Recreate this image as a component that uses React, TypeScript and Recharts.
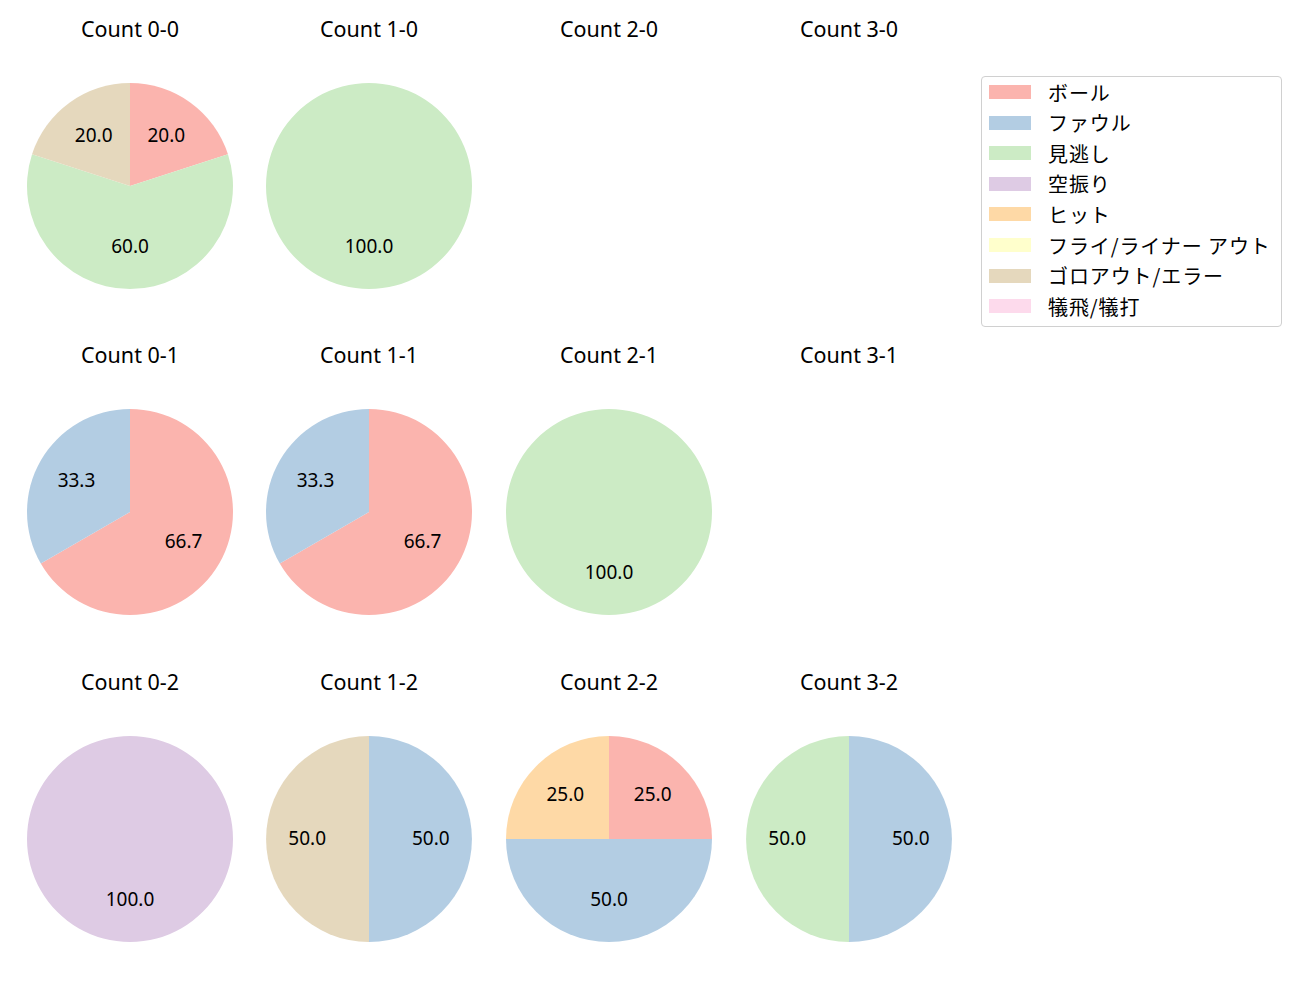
import React from 'react'
import { PieChart, Pie, Cell } from 'recharts'

// 打席結果カテゴリ
const categories = ['ボール', 'ファウル', '見逃し', '空振り', 'ヒット', 'フライ/ライナー アウト', 'ゴロアウト/エラー', '犠飛/犠打']
const colors = ['#fbb4ae', '#b3cde3', '#ccebc5', '#decbe4', '#fed9a6', '#ffffcc', '#e5d8bd', '#fddaec']

// カウントごとの件数 (categories の順)
const countLabels = ['0-0', '1-0', '2-0', '3-0', '0-1', '1-1', '2-1', '3-1', '0-2', '1-2', '2-2', '3-2']
const count00 = [1, 0, 3, 0, 0, 0, 1, 0]
const count10 = [0, 0, 1, 0, 0, 0, 0, 0]
const count20 = [0, 0, 0, 0, 0, 0, 0, 0]
const count30 = [0, 0, 0, 0, 0, 0, 0, 0]
const count01 = [2, 1, 0, 0, 0, 0, 0, 0]
const count11 = [2, 1, 0, 0, 0, 0, 0, 0]
const count21 = [0, 0, 1, 0, 0, 0, 0, 0]
const count31 = [0, 0, 0, 0, 0, 0, 0, 0]
const count02 = [0, 0, 0, 1, 0, 0, 0, 0]
const count12 = [0, 1, 0, 0, 0, 0, 1, 0]
const count22 = [1, 2, 0, 0, 1, 0, 0, 0]
const count32 = [0, 1, 1, 0, 0, 0, 0, 0]
const countValues = [count00, count10, count20, count30, count01, count11, count21, count31, count02, count12, count22, count32]

const FONT = '"Noto Sans", "Noto Sans CJK JP", sans-serif'
const JP_FONT = '"Noto Sans CJK JP", "Noto Sans", sans-serif'
const colX = [130, 369, 609, 849]
const rowY = [186, 512, 839]
const RADIUS = 103
const RAD = Math.PI / 180

const renderLabel = (props: any) => {
  const { cx, cy, midAngle, outerRadius, percent } = props
  const r = outerRadius * 0.6
  const x = cx + r * Math.cos(midAngle * RAD)
  const y = cy - r * Math.sin(midAngle * RAD) - 1.5
  return (
    <text x={x} y={y} textAnchor="middle" dominantBaseline="central" fill="#000" fontSize={19} fontFamily={FONT}>
      {(percent * 100).toFixed(1)}
    </text>
  )
}

export default function App() {
  return (
    <div style={{ position: 'absolute', left: 0, top: 0, width: 1300, height: 1000, background: '#fff', fontFamily: FONT }}>
      <PieChart width={1300} height={1000} margin={{ top: 0, right: 0, bottom: 0, left: 0 }}>
        {countValues.map((vals, i) => {
          const data = vals
            .map((v, k) => ({ name: categories[k], value: v, color: colors[k] }))
            .filter(d => d.value > 0)
          if (data.length === 0) return null
          return (
            <Pie
              key={countLabels[i]}
              data={data}
              dataKey="value"
              nameKey="name"
              cx={colX[i % 4]}
              cy={rowY[Math.floor(i / 4)]}
              outerRadius={RADIUS}
              startAngle={90}
              endAngle={-270}
              stroke="none"
              label={renderLabel}
              labelLine={false}
              isAnimationActive={false}
            >
              {data.map(d => (
                <Cell key={d.name} fill={d.color} />
              ))}
            </Pie>
          )
        })}
      </PieChart>

      {/* タイトル */}
      {countLabels.map((c, i) => (
        <div
          key={c}
          style={{
            position: 'absolute',
            left: colX[i % 4] - 100,
            width: 200,
            top: rowY[Math.floor(i / 4)] - 157 - 13,
            textAlign: 'center',
            fontSize: 21.5,
            lineHeight: '26px',
            color: '#000'
          }}
        >
          Count {c}
        </div>
      ))}

      {/* 凡例 */}
      <div
        style={{
          position: 'absolute',
          left: 981,
          top: 76,
          width: 301,
          height: 251,
          border: '1px solid #d0d0d0',
          borderRadius: 4,
          boxSizing: 'border-box',
          fontFamily: JP_FONT
        }}
      >
        {categories.map((c, k) => (
          <div
            key={c}
            style={{
              position: 'absolute',
              left: 7,
              top: 15 + k * 30.6 - 13,
              height: 26,
              display: 'flex',
              alignItems: 'center',
              whiteSpace: 'nowrap'
            }}
          >
            <div style={{ width: 42, height: 14, background: colors[k] }} />
            <span style={{ marginLeft: 17, fontSize: 20, letterSpacing: 0.9, color: '#000' }}>{c}</span>
          </div>
        ))}
      </div>
    </div>
  )
}
